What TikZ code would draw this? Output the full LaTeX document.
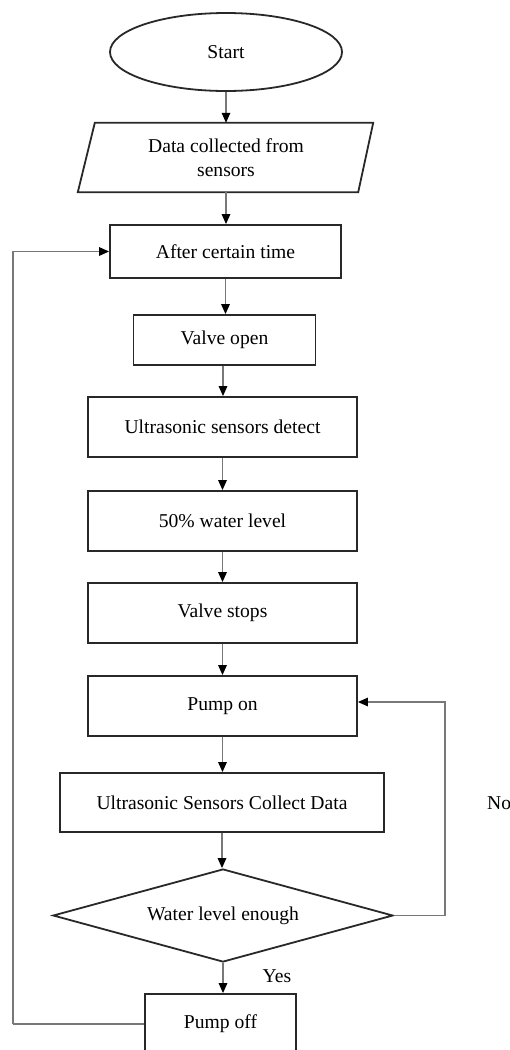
\documentclass[tikz,border=0pt]{standalone}
\usepackage{fontspec}
\setmainfont{Liberation Serif}
\usetikzlibrary{shapes.geometric,arrows.meta}
\definecolor{boxc}{RGB}{40,40,40}
\definecolor{connc}{RGB}{120,120,120}
\tikzset{
  basefont/.style={font=\fontsize{19.6}{24}\selectfont, text=black},
  boxbase/.style={basefont, draw=boxc, line width=1.8pt, inner sep=0pt},
  procbox/.style={boxbase, rectangle},
  termnode/.style={boxbase, ellipse},
  decnode/.style={boxbase, diamond},
  plainnode/.style={basefont, inner sep=0pt},
  conn/.style={draw=connc, line width=1.4pt, -{Triangle[length=10pt,width=8.5pt,color=black]}},
  loopline/.style={draw=connc, line width=1.4pt}
}
\begin{document}
\begin{tikzpicture}[x=1pt,y=1pt]
\useasboundingbox (0,0) rectangle (510,-1050);
\fill[white] (0,0) rectangle (510,-1050);
\clip (0,0) rectangle (510,-1050);

\node[termnode, minimum width=232pt, minimum height=78pt] (start) at (226,-52) {Start};
\node[plainnode, align=center, minimum width=279pt, minimum height=69pt] (data) at (226,-157.5) {Data collected from\\sensors};
\draw[boxc, line width=1.8pt] ([xshift=-8.5pt]data.south west) -- ([xshift=8.5pt]data.north west) -- ([xshift=7.5pt]data.north east) -- ([xshift=-7.5pt]data.south east) -- cycle;
\node[procbox, minimum width=231pt, minimum height=53pt] (after) at (225.5,-251.5) {After certain time};
\node[procbox, minimum width=182pt, minimum height=50pt] (valve) at (224.5,-340) {Valve open};
\node[procbox, minimum width=269pt, minimum height=60pt] (detect) at (222.5,-427) {Ultrasonic sensors detect};
\node[procbox, minimum width=269pt, minimum height=60pt] (level) at (222.5,-521) {50\% water level};
\node[procbox, minimum width=269pt, minimum height=60pt] (stops) at (222.5,-613) {Valve stops};
\node[procbox, minimum width=269pt, minimum height=60pt] (pumpon) at (222.5,-706) {Pump on};
\node[procbox, minimum width=324pt, minimum height=59pt] (collect) at (222,-802.5) {Ultrasonic Sensors Collect Data};
\node[decnode, minimum width=340pt, minimum height=93pt, aspect=3.66] (dia) at (223,-915.5) {Water level enough};
\node[procbox, minimum width=151pt, minimum height=60pt] (pumpoff) at (220.5,-1024) {Pump off};

\node[plainnode, anchor=west] (no) at (487,-803) {No};
\node[plainnode] (yes) at (277,-976) {Yes};

\coordinate (lx) at (13,0);
\coordinate (rx) at (445,0);

\draw[conn] (start.south) -- (start.south |- data.north);
\draw[conn] (data.south) -- (data.south |- after.north);
\draw[conn] (after.south) -- (after.south |- valve.north);
\draw[conn] ([xshift=-1.5pt]valve.south) -- ([xshift=-1.5pt]valve.south |- detect.north);
\draw[conn] (detect.south) -- (detect.south |- level.north);
\draw[conn] (level.south) -- (level.south |- stops.north);
\draw[conn] (stops.south) -- (stops.south |- pumpon.north);
\draw[conn] (pumpon.south) -- (pumpon.south |- collect.north);
\draw[conn] (collect.south) -- (collect.south |- dia.north);
\draw[conn] (dia.south) -- (dia.south |- pumpoff.north);
\draw[loopline] (dia.east) -- (dia.east -| rx);
\draw[conn] (dia.east -| rx) |- ([yshift=4pt]pumpon.east);
\draw[loopline] (pumpoff.west) -- (pumpoff.west -| lx);
\draw[conn] (pumpoff.west -| lx) |- (after.west);
\end{tikzpicture}
\end{document}
